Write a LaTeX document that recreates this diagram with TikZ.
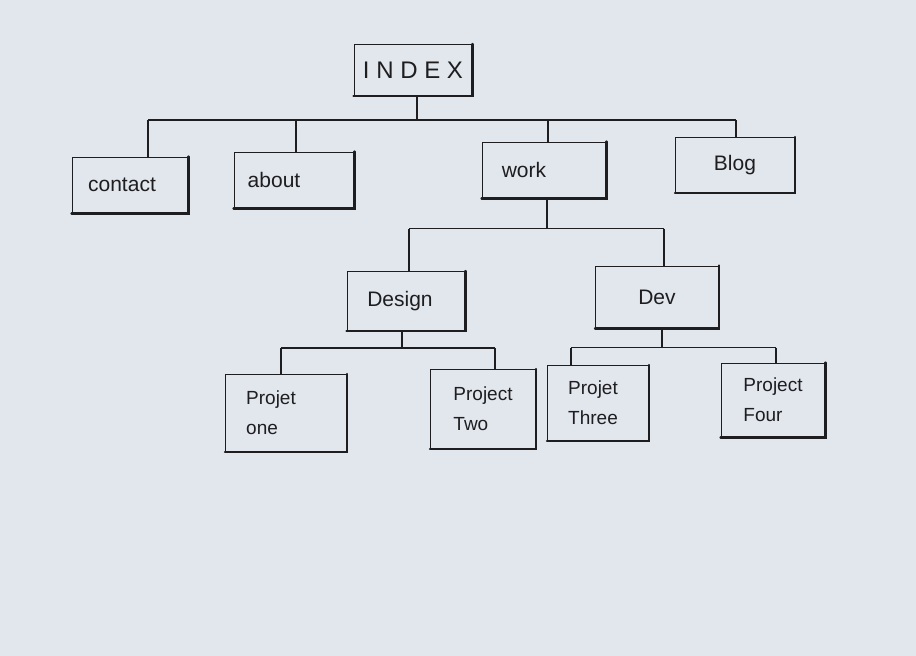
\documentclass[tikz,border=0pt]{standalone}
\usepackage{fontspec}
\setmainfont{Liberation Sans}
\definecolor{paper}{RGB}{226,230,237}
\definecolor{ink}{RGB}{30,30,32}
\newcommand{\padr}[1]{\rule{#1}{0pt}}
\begin{document}
\begin{tikzpicture}[x=1pt,y=-1pt,
  pagebox/.style={draw=ink,line width=1pt,fill=paper,inner sep=2pt,font=\fontsize{21}{24}\selectfont,text=ink},
  twoline/.style={pagebox,align=left,font=\fontsize{19}{30}\selectfont},
  link/.style={draw=ink,line width=1.1pt}]
\fill[paper] (0,0) rectangle (916,656);
\useasboundingbox (0,0) rectangle (916,656);
% nodes
\node[pagebox,minimum width=118pt,minimum height=51pt,font=\fontsize{24}{28}\selectfont] (index) at (413,70) {I N D E X};
\node[pagebox,minimum width=116pt,minimum height=56pt] (contact) at (130,185) {contact\padr{16pt}};
\node[pagebox,minimum width=120pt,minimum height=56pt] (about) at (294,180) {about\padr{40pt}};
\node[pagebox,minimum width=124pt,minimum height=56pt] (work) at (544,170) {work\padr{40pt}};
\node[pagebox,minimum width=119pt,minimum height=55pt] (blog) at (735,165) {Blog};
\node[pagebox,minimum width=118pt,minimum height=59pt] (design) at (406,301) {Design\padr{12pt}};
\node[pagebox,minimum width=123pt,minimum height=62pt] (dev) at (657,297) {Dev};
\node[twoline,minimum width=121pt,minimum height=77pt] (p1) at (286,413) {Projet\padr{30pt}\\one};
\node[twoline,minimum width=105pt,minimum height=79pt] (p2) at (483,409) {Project\\Two};
\node[twoline,minimum width=101pt,minimum height=75pt] (p3) at (598,403) {Projet\padr{10pt}\\Three};
\node[twoline,minimum width=104pt,minimum height=74pt] (p4) at (773,400) {Project\\Four};
% heavy right and bottom edges
\foreach \n in {index,contact,about,work,blog,design,dev,p1,p2,p3,p4}
  \draw[ink,line width=2.4pt,line cap=round] (\n.north east) -- (\n.south east) -- (\n.south west);
% connectors: index level
\coordinate (b1) at ([xshift=4pt,yshift=-24pt]index.south);
\draw[link] ([xshift=4pt]index.south) -- (b1);
\draw[link] ([xshift=18pt]contact.north |- b1) -- ([xshift=1pt]blog.north |- b1);
\draw[link] ([xshift=18pt]contact.north |- b1) -- ([xshift=18pt]contact.north);
\draw[link] ([xshift=2pt]about.north |- b1) -- ([xshift=2pt]about.north);
\draw[link] ([xshift=4pt]work.north |- b1) -- ([xshift=4pt]work.north);
\draw[link] ([xshift=1pt]blog.north |- b1) -- ([xshift=1pt]blog.north);
% work level
\coordinate (b2) at ([xshift=3pt,yshift=-30pt]work.south);
\draw[link] ([xshift=3pt]work.south) -- (b2);
\draw[link] ([xshift=3pt]design.north |- b2) -- ([xshift=7pt]dev.north |- b2);
\draw[link] ([xshift=3pt]design.north |- b2) -- ([xshift=3pt]design.north);
\draw[link] ([xshift=7pt]dev.north |- b2) -- ([xshift=7pt]dev.north);
% design level
\coordinate (b3) at ([xshift=-4pt,yshift=-17pt]design.south);
\draw[link] ([xshift=-4pt]design.south) -- (b3);
\draw[link] ([xshift=-5pt]p1.north |- b3) -- ([xshift=12pt]p2.north |- b3);
\draw[link] ([xshift=-5pt]p1.north |- b3) -- ([xshift=-5pt]p1.north);
\draw[link] ([xshift=12pt]p2.north |- b3) -- ([xshift=12pt]p2.north);
% dev level
\coordinate (b4) at ([xshift=5pt,yshift=-19pt]dev.south);
\draw[link] ([xshift=5pt]dev.south) -- (b4);
\draw[link] ([xshift=-27pt]p3.north |- b4) -- ([xshift=3pt]p4.north |- b4);
\draw[link] ([xshift=-27pt]p3.north |- b4) -- ([xshift=-27pt]p3.north);
\draw[link] ([xshift=3pt]p4.north |- b4) -- ([xshift=3pt]p4.north);
\end{tikzpicture}
\end{document}
